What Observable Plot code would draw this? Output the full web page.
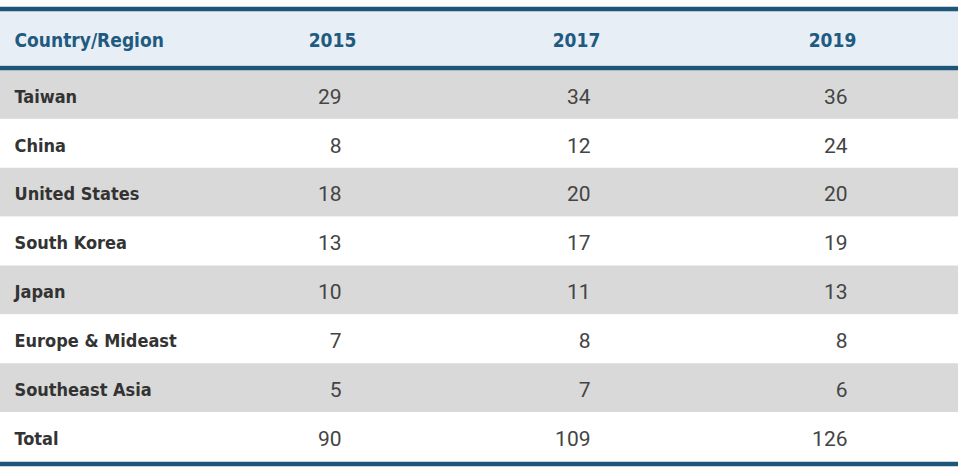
<!DOCTYPE html>
<html>
<head>
<meta charset="utf-8">
<script src="https://cdn.jsdelivr.net/npm/d3@7"></script>
<script src="https://cdn.jsdelivr.net/npm/@observablehq/plot@0.6"></script>
<style>
  html, body { margin: 0; padding: 0; background: #ffffff; }
  #chart svg { display: block; }
</style>
</head>
<body>
<div id="chart"></div>
<script>
// ---- data ----
const headerLabel = "Country/Region";
const years = ["2015", "2017", "2019"];
const countries = ["Taiwan", "China", "United States", "South Korea", "Japan", "Europe & Mideast", "Southeast Asia", "Total"];
const v2015 = [29, 8, 18, 13, 10, 7, 5, 90];
const v2017 = [34, 12, 20, 17, 11, 8, 7, 109];
const v2019 = [36, 24, 20, 19, 13, 8, 6, 126];

// ---- layout (table geometry) ----
const tableRight = 958;
const labelX = 14;
const colCenter = {"2015": 332, "2017": 576, "2019": 832};
const colRight = {"2015": 341, "2017": 590, "2019": 847};
const lineColor = "#1d5679";
const condensed = "'DejaVu Sans Condensed', 'DejaVu Sans', sans-serif";

const series = {"2015": v2015, "2017": v2017, "2019": v2019};
const rows = countries.map((c, i) => ({row: i, country: c}));
const cells = years.flatMap(y => countries.map((c, i) => ({row: i, year: y, value: series[y][i]})));

const chart = Plot.plot({
  width: 966,
  height: 476,
  margin: 0,
  style: {background: "#ffffff", overflow: "visible"},
  x: {domain: [0, 966], range: [0, 966], axis: null},
  y: {domain: [0, 8], range: [70, 461], axis: null},
  marks: [
    // header background
    Plot.rect([headerLabel], {x1: 0, x2: tableRight, y1: -1.207, y2: -0.102, fill: "#e8eef6"}),
    // zebra rows
    Plot.rect(rows, {x1: 0, x2: tableRight, y1: "row", y2: d => d.row + 1,
      fill: d => d.row % 2 === 0 ? "#d9d9d9" : "#ffffff"}),
    // horizontal rules
    Plot.ruleY([-1.258, -0.051, 8.051], {x1: 0, x2: tableRight, stroke: lineColor, strokeWidth: 4.5}),
    // header texts
    Plot.text([headerLabel], {x: labelX, y: -0.634, text: d => d, textAnchor: "start", dy: 1,
      fill: "#1f5a80", fontSize: 19, fontWeight: "bold", fontFamily: condensed}),
    Plot.text(years, {x: d => colCenter[d], y: -0.634, text: d => d, textAnchor: "middle", dy: 1,
      fill: "#1f5a80", fontSize: 19, fontWeight: "bold", fontFamily: condensed}),
    // row labels
    Plot.text(rows, {x: labelX, y: d => d.row + 0.5, text: "country", textAnchor: "start", dy: 2,
      fill: "#333333", fontSize: 18, fontWeight: "bold", fontFamily: condensed}),
    // values
    Plot.text(cells, {x: d => colRight[d.year], y: d => d.row + 0.5, text: d => String(d.value),
      textAnchor: "end", dy: 2, fill: "#444444", fontSize: 21, fontFamily: "Roboto, sans-serif"})
  ]
});
document.getElementById("chart").append(chart);
</script>
</body>
</html>
